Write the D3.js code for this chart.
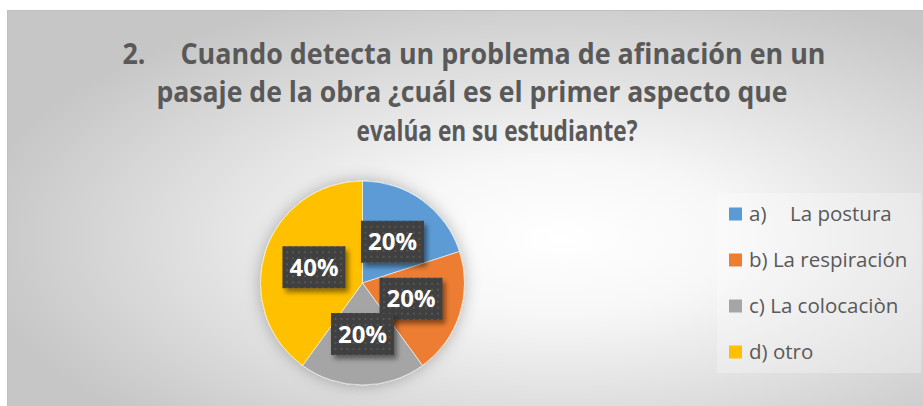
<!DOCTYPE html>
<html>
<head>
<meta charset="utf-8">
<script src="https://cdn.jsdelivr.net/npm/d3@7"></script>
<style>
  html, body { margin: 0; padding: 0; background: #ffffff; }
  svg { display: block; }
</style>
</head>
<body>
<svg id="chart" width="923" height="406"></svg>
<script>
// ---- data ----
const titleLines = [
  "2.\u00a0\u00a0\u00a0\u00a0\u00a0Cuando detecta un problema de afinación en un",
  "pasaje de la obra ¿cuál es el primer aspecto que",
  "evalúa en su estudiante?"
];
const categories = ["a)", "b) La respiración", "c) La colocaciòn", "d) otro"];
const categorySuffix = ["La postura", "", "", ""];
const values = [20, 20, 20, 40];
const colors = ["#5B9BD5", "#ED7D31", "#A5A5A5", "#FFC000"];

// ---- layout ----
const W = 923, H = 406;
const svg = d3.select("#chart");
const defs = svg.append("defs");

const bg = defs.append("radialGradient").attr("id", "bgGrad")
  .attr("cx", 0.6).attr("cy", 0.56).attr("r", 0.64);
bg.append("stop").attr("offset", "0%").attr("stop-color", "#ffffff");
bg.append("stop").attr("offset", "30%").attr("stop-color", "#f7f7f7");
bg.append("stop").attr("offset", "100%").attr("stop-color", "#c6c6c6");

const dots = defs.append("pattern").attr("id", "dots")
  .attr("patternUnits", "userSpaceOnUse").attr("width", 6).attr("height", 6);
dots.append("rect").attr("width", 6).attr("height", 6).attr("fill", "#404040");
dots.append("rect").attr("x", 2).attr("y", 2).attr("width", 2).attr("height", 2).attr("fill", "#555555");

const pieShadow = defs.append("filter").attr("id", "pieShadow")
  .attr("x", "-30%").attr("y", "-30%").attr("width", "160%").attr("height", "160%");
pieShadow.append("feDropShadow").attr("dx", 0).attr("dy", 0)
  .attr("stdDeviation", 8).attr("flood-color", "#000").attr("flood-opacity", 0.28);

const boxShadow = defs.append("filter").attr("id", "boxShadow")
  .attr("x", "-30%").attr("y", "-30%").attr("width", "160%").attr("height", "170%");
boxShadow.append("feDropShadow").attr("dx", 3).attr("dy", 4)
  .attr("stdDeviation", 2.5).attr("flood-color", "#000").attr("flood-opacity", 0.45);

// chart area
svg.append("rect").attr("x", 7.5).attr("y", 10.5).attr("width", W).attr("height", H)
  .attr("fill", "url(#bgGrad)").attr("stroke", "#bfbfbf").attr("stroke-width", 1);

// title
const titleFont = "'Open Sans', Lato, sans-serif";
const titleCenters = [474, 472, 497];
const titleBaselines = [64, 102, 141];
const titleWidths = [703, 631, 281];
svg.append("g").selectAll("text").data(titleLines).join("text")
  .attr("x", (d, i) => titleCenters[i])
  .attr("y", (d, i) => titleBaselines[i])
  .attr("text-anchor", "middle")
  .attr("font-family", titleFont)
  .attr("font-weight", "bold")
  .attr("font-size", 28)
  .attr("fill", "#595959")
  .attr("textLength", (d, i) => titleWidths[i])
  .attr("lengthAdjust", "spacingAndGlyphs")
  .text(d => d);

// pie
const cx = 362.5, cy = 283, R = 102;
const pie = d3.pie().sort(null).value(d => d);
const arcs = pie(values);
const arc = d3.arc().innerRadius(0).outerRadius(R);
const total = d3.sum(values);

const gPie = svg.append("g").attr("transform", `translate(${cx},${cy})`);
gPie.append("g").attr("filter", "url(#pieShadow)")
  .selectAll("path").data(arcs).join("path")
  .attr("d", arc)
  .attr("fill", (d, i) => colors[i])
  .attr("stroke", "#ffffff").attr("stroke-width", 0.6);

// data labels
const bw = 63, bh = 42;
const lbl = gPie.append("g").selectAll("g").data(arcs).join("g")
  .attr("transform", d => { const c = arc.centroid(d); return `translate(${c[0]},${c[1]})`; });
lbl.append("rect")
  .attr("x", -bw / 2).attr("y", -bh / 2).attr("width", bw).attr("height", bh)
  .attr("fill", "url(#dots)").attr("filter", "url(#boxShadow)");
lbl.append("text")
  .attr("text-anchor", "middle").attr("dy", "0.36em")
  .attr("font-family", titleFont).attr("font-weight", "bold").attr("font-size", 24)
  .attr("fill", "#ffffff")
  .attr("textLength", 49).attr("lengthAdjust", "spacingAndGlyphs")
  .text(d => d3.format(".0%")(d.value / total));

// legend
svg.append("rect").attr("x", 717).attr("y", 193).attr("width", 204).attr("height", 180)
  .attr("fill", "#ffffff").attr("fill-opacity", 0.28);
const legendY = d3.scalePoint().domain(categories).range([214, 352]);
const lg = svg.append("g").selectAll("g").data(categories).join("g")
  .attr("transform", d => `translate(729,${legendY(d)})`);
lg.append("rect").attr("x", 0).attr("y", -6.5).attr("width", 13).attr("height", 13)
  .attr("fill", (d, i) => colors[i]);
const lt = lg.append("text").attr("x", 20).attr("dy", "0.35em")
  .attr("font-family", "'Open Sans', sans-serif").attr("font-size", 20.5).attr("fill", "#595959");
lt.append("tspan").text(d => d);
lt.append("tspan").attr("x", 61).text((d, i) => categorySuffix[i]);
</script>
</body>
</html>
